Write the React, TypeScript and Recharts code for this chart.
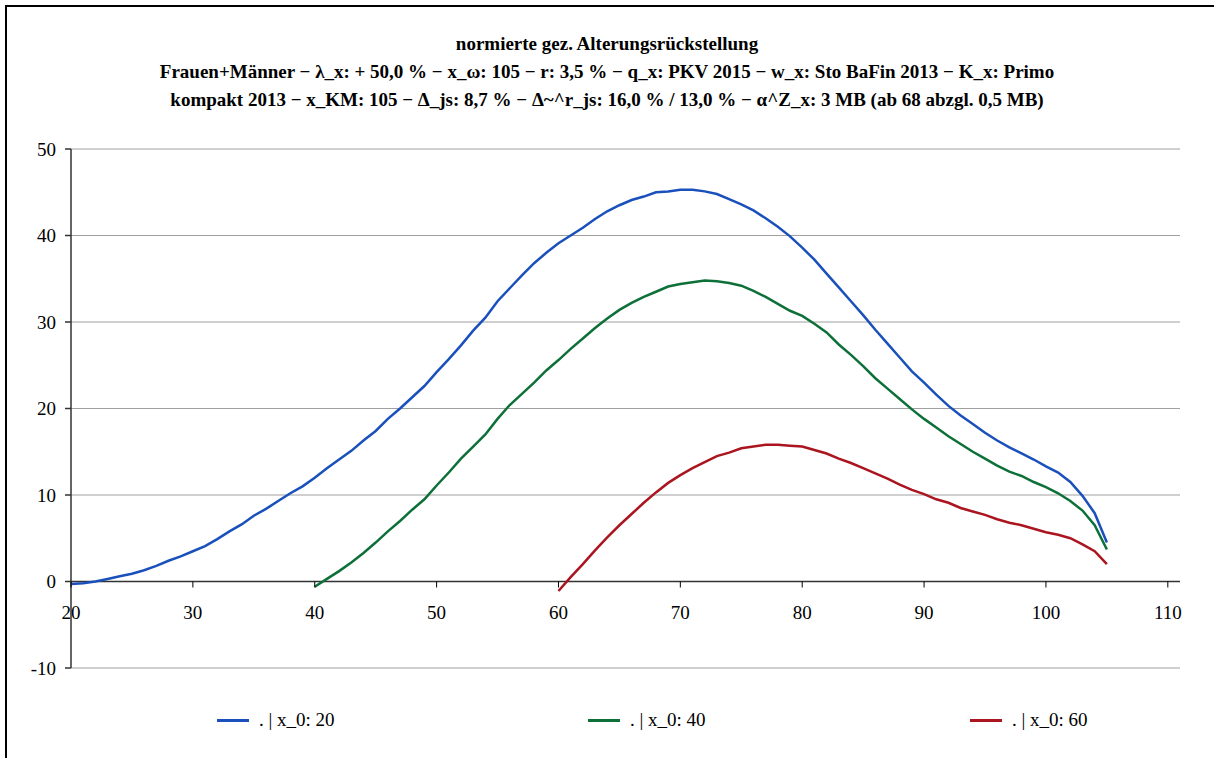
import { CartesianGrid, Legend, Line, LineChart, ReferenceLine, XAxis, YAxis } from "recharts"

const ages = [
  20, 21, 22, 23, 24, 25, 26, 27, 28, 29, 30, 31, 32, 33, 34, 35, 36, 37, 38, 39, 40, 41, 42, 43, 44, 45, 46, 47, 48, 49,
  50, 51, 52, 53, 54, 55, 56, 57, 58, 59, 60, 61, 62, 63, 64, 65, 66, 67, 68, 69, 70, 71, 72, 73, 74, 75, 76, 77, 78, 79,
  80, 81, 82, 83, 84, 85, 86, 87, 88, 89, 90, 91, 92, 93, 94, 95, 96, 97, 98, 99, 100, 101, 102, 103, 104, 105,
]

// x_0: 20, ages 20..105
const series20 = [
  -0.3, -0.2, 0.0, 0.3, 0.6, 0.9, 1.3, 1.8, 2.4, 2.9, 3.5, 4.1, 4.9, 5.8, 6.6, 7.6, 8.4, 9.3, 10.2, 11.0,
  12.0, 13.1, 14.1, 15.1, 16.3, 17.4, 18.8, 20.0, 21.3, 22.6, 24.2, 25.7, 27.3, 29.0, 30.5, 32.4, 33.9, 35.4, 36.8, 38.0,
  39.1, 40.0, 40.9, 41.9, 42.8, 43.5, 44.1, 44.5, 45.0, 45.1, 45.3, 45.3, 45.1, 44.8, 44.2, 43.6, 42.9, 42.0, 41.0, 39.9,
  38.6, 37.2, 35.6, 34.0, 32.4, 30.8, 29.1, 27.5, 25.9, 24.3, 23.0, 21.6, 20.3, 19.2, 18.2, 17.2, 16.3, 15.5, 14.8, 14.1,
  13.3, 12.6, 11.5, 9.9, 7.9, 4.5,
]

// x_0: 40, ages 40..105
const series40 = [
  -0.6, 0.3, 1.2, 2.2, 3.3, 4.5, 5.8, 7.0, 8.3, 9.5, 11.1, 12.6, 14.2, 15.6, 17.0, 18.8, 20.4, 21.7, 23.0, 24.4,
  25.6, 26.9, 28.1, 29.3, 30.4, 31.4, 32.2, 32.9, 33.5, 34.1, 34.4, 34.6, 34.8, 34.7, 34.5, 34.2, 33.6, 32.9, 32.1, 31.3,
  30.7, 29.8, 28.8, 27.4, 26.2, 24.9, 23.5, 22.3, 21.1, 19.9, 18.8, 17.8, 16.8, 15.9, 15.0, 14.2, 13.4, 12.7, 12.2, 11.5,
  10.9, 10.2, 9.3, 8.2, 6.5, 3.7,
]

// x_0: 60, ages 60..105
const series60 = [
  -1.1, 0.5, 2.0, 3.6, 5.1, 6.5, 7.8, 9.1, 10.3, 11.4, 12.3, 13.1, 13.8, 14.5, 14.9, 15.4, 15.6, 15.8, 15.8, 15.7,
  15.6, 15.2, 14.8, 14.2, 13.7, 13.1, 12.5, 11.9, 11.2, 10.6, 10.1, 9.5, 9.1, 8.5, 8.1, 7.7, 7.2, 6.8, 6.5, 6.1,
  5.7, 5.4, 5.0, 4.3, 3.5, 2.0,
]

const xTicks = [20, 30, 40, 50, 60, 70, 80, 90, 100, 110]
const yTicks = [-10, 0, 10, 20, 30, 40, 50]

const seriesNames = [". | x_0: 20", ". | x_0: 40", ". | x_0: 60"]
const seriesColors = ["#1a50bb", "#0d7038", "#aa151f"]

const titleLines = [
  "normierte gez. Alterungsrückstellung",
  "Frauen+Männer − λ_x: + 50,0 % − x_ω: 105 − r: 3,5 % − q_x: PKV 2015 − w_x: Sto BaFin 2013 − K_x: Primo",
  "kompakt 2013 − x_KM: 105 − Δ_js: 8,7 % − Δ~^r_js: 16,0 % / 13,0 % − α^Z_x: 3 MB (ab 68 abzgl. 0,5 MB)",
]

const data = ages.map((age) => ({
  age,
  s20: age >= 20 ? series20[age - 20] : null,
  s40: age >= 40 ? series40[age - 40] : null,
  s60: age >= 60 ? series60[age - 60] : null,
}))

const W = 1214
const H = 758
const PLOT_TOP = 149
const PLOT_BOTTOM = 668
const PLOT_LEFT = 71
const PLOT_RIGHT = 1180
const Y_MIN = -10
const Y_MAX = 50
const FONT = "'Liberation Serif', 'Times New Roman', serif"
const FS = 19

const zeroY = PLOT_TOP + ((PLOT_BOTTOM - PLOT_TOP) * Y_MAX) / (Y_MAX - Y_MIN)

// x axis crosses at y = 0, so ticks and labels hang from that line
function XTick(props: any) {
  const { x, payload } = props
  return (
    <g>
      <line x1={x} x2={x} y1={zeroY} y2={zeroY + 6} stroke="#000" strokeWidth={1} />
      <text x={x} y={zeroY + 37} textAnchor="middle" fontFamily={FONT} fontSize={FS} fill="#000">
        {payload.value}
      </text>
    </g>
  )
}

function LegendContent() {
  return (
    <div style={{ position: "relative", width: W, height: 24, fontFamily: FONT, fontSize: FS, color: "#000" }}>
      {seriesNames.map((name, i) => (
        <div
          key={name}
          style={{
            position: "absolute",
            left: [217, 588, 970][i],
            top: 0,
            height: 24,
            display: "flex",
            alignItems: "center",
            whiteSpace: "nowrap",
          }}
        >
          <span style={{ display: "inline-block", width: 32, height: 3, background: seriesColors[i], marginRight: 10 }} />
          <span>{name}</span>
        </div>
      ))}
    </div>
  )
}

export default function App() {
  return (
    <div style={{ position: "absolute", left: 0, top: 0, width: W, height: H, overflow: "hidden", background: "#fff" }}>
      <div
        style={{
          position: "absolute",
          left: 5,
          top: 5,
          width: 1400,
          height: 1000,
          borderTop: "2px solid #000",
          borderLeft: "2px solid #000",
        }}
      />
      <div
        style={{
          position: "absolute",
          left: 0,
          top: 30,
          width: W,
          textAlign: "center",
          fontFamily: FONT,
          fontWeight: "bold",
          fontSize: FS,
          lineHeight: "28px",
          color: "#000",
        }}
      >
        {titleLines.map((t) => (
          <div key={t}>{t}</div>
        ))}
      </div>
      <div style={{ position: "absolute", left: 0, top: 0 }}>
        <LineChart
          width={W}
          height={H}
          data={data}
          margin={{ top: PLOT_TOP, left: PLOT_LEFT - 60, right: W - PLOT_RIGHT, bottom: H - PLOT_BOTTOM - 30 }}
        >
          <CartesianGrid vertical={false} stroke="#a0a0a0" strokeWidth={1} />
          <XAxis
            dataKey="age"
            type="number"
            domain={[20, 111]}
            ticks={xTicks}
            height={30}
            axisLine={false}
            tickLine={false}
            tick={<XTick />}
            interval={0}
            allowDataOverflow
          />
          <YAxis
            type="number"
            domain={[Y_MIN, Y_MAX]}
            ticks={yTicks}
            width={60}
            axisLine={{ stroke: "#333", strokeWidth: 1.5 }}
            tickLine={{ stroke: "#333", strokeWidth: 1.5 }}
            tickSize={6}
            tickMargin={9}
            interval={0}
            tick={{ fontFamily: FONT, fontSize: FS, fill: "#000" }}
          />
          <ReferenceLine y={0} stroke="#333" strokeWidth={1.5} />
          <Line type="linear" dataKey="s20" name={seriesNames[0]} stroke={seriesColors[0]} strokeWidth={2.5} dot={false} isAnimationActive={false} />
          <Line type="linear" dataKey="s40" name={seriesNames[1]} stroke={seriesColors[1]} strokeWidth={2.5} dot={false} isAnimationActive={false} />
          <Line type="linear" dataKey="s60" name={seriesNames[2]} stroke={seriesColors[2]} strokeWidth={2.5} dot={false} isAnimationActive={false} />
          <Legend
            layout="horizontal"
            verticalAlign="middle"
            align="center"
            wrapperStyle={{ top: 708, left: 0, width: W }}
            content={<LegendContent />}
          />
        </LineChart>
      </div>
    </div>
  )
}
